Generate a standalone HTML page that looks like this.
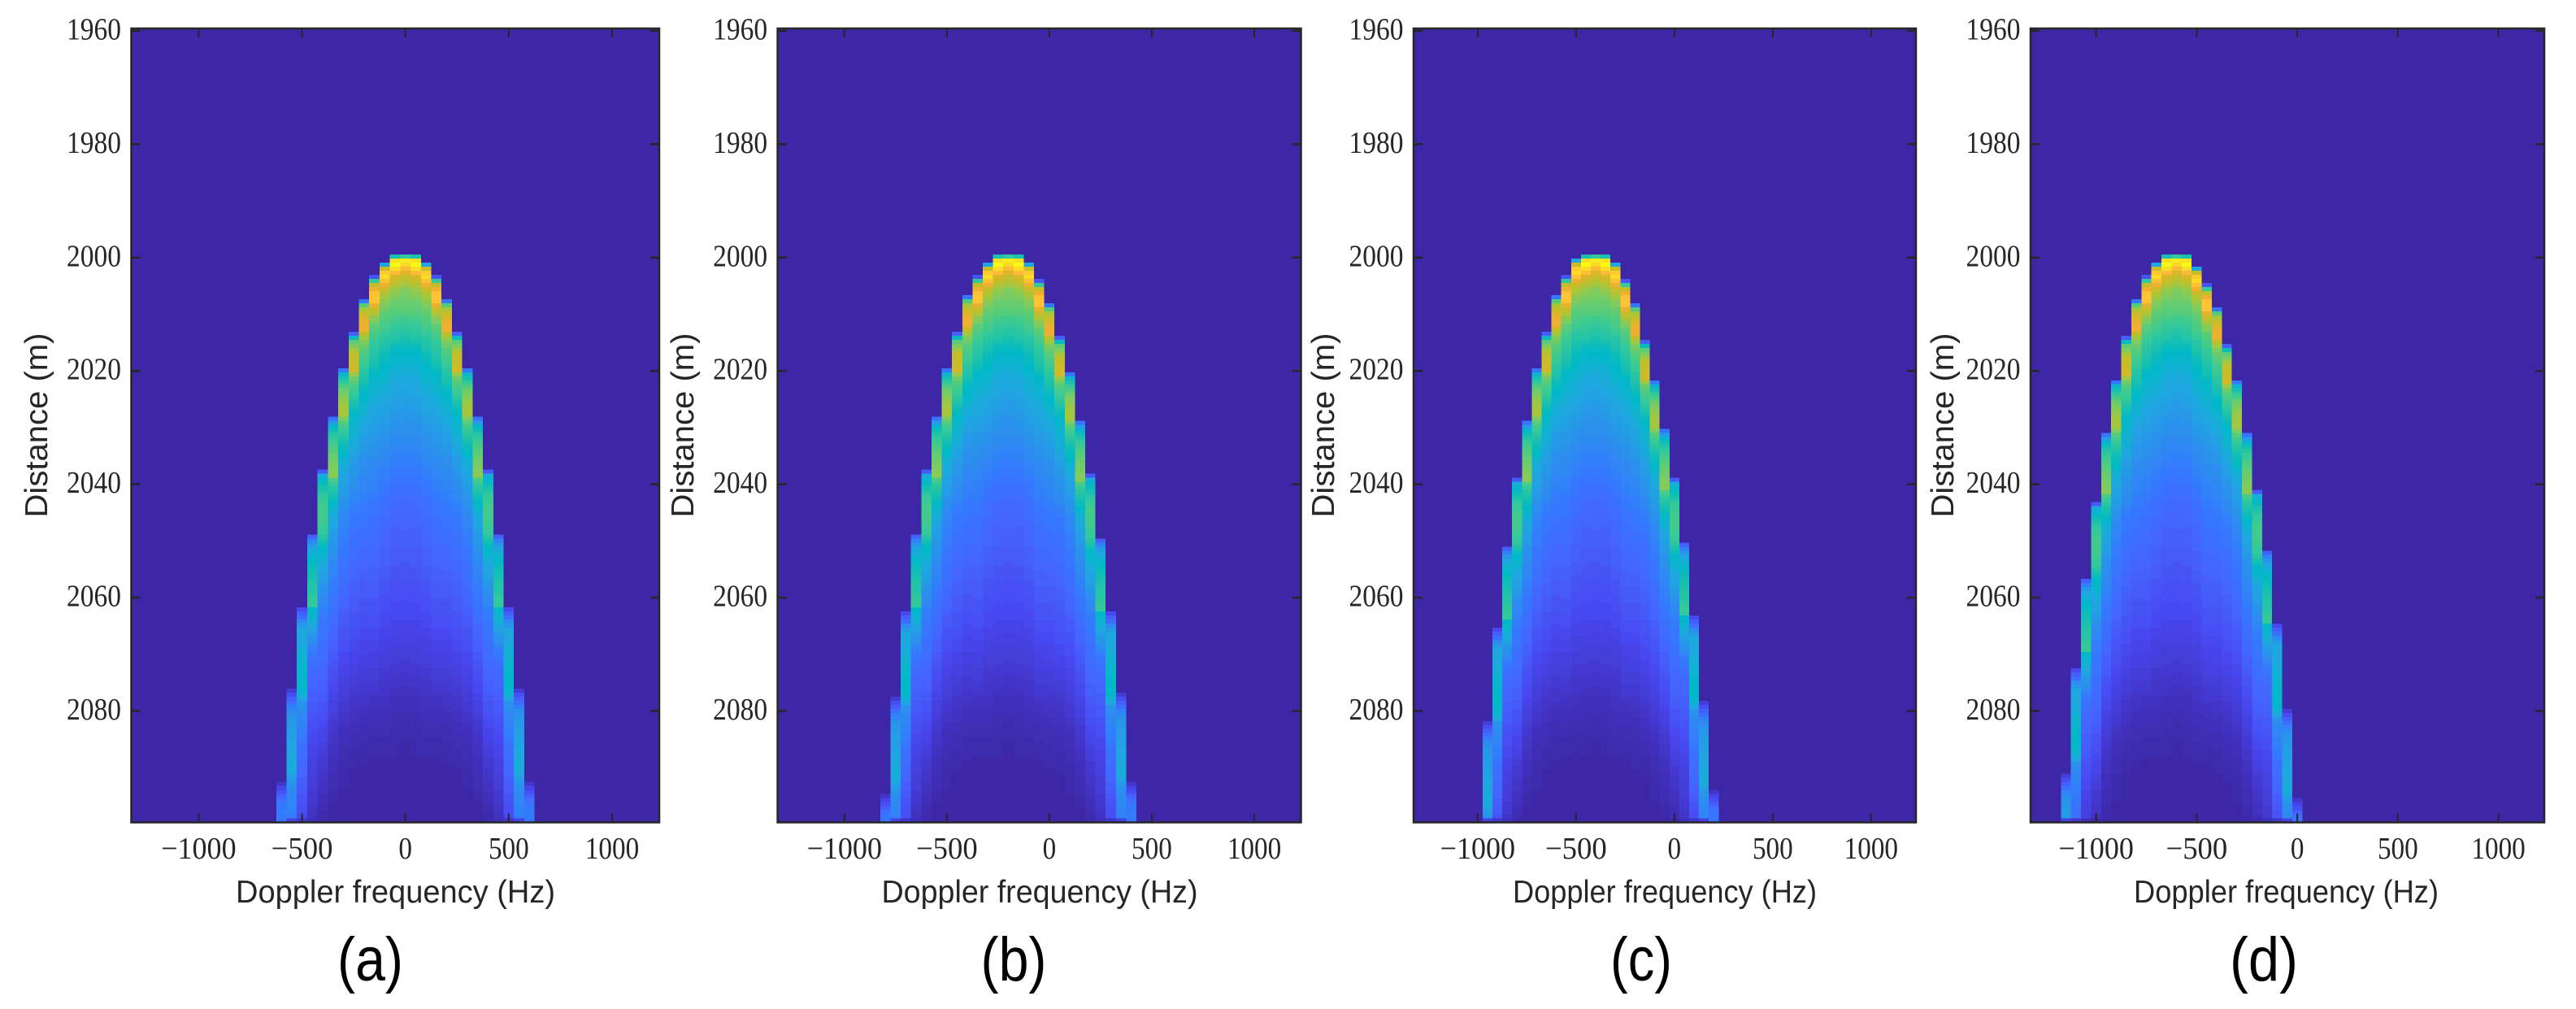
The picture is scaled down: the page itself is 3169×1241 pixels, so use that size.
<!DOCTYPE html>
<html lang="en">
<head>
<meta charset="utf-8">
<title>Range-Doppler heatmaps</title>
<style>
html,body{margin:0;padding:0;background:#fff}
svg{display:block}
.tick-label{font-family:"Liberation Serif",serif;font-size:38px;fill:#262626}
.axis-title{font-family:"Liberation Sans",sans-serif;font-size:39px;fill:#262626}
.caption{font-family:"Liberation Sans",sans-serif;font-size:76px;fill:#000}
</style>
</head>
<body>
<svg id="chart" xmlns="http://www.w3.org/2000/svg" width="3169" height="1241" viewBox="0 0 3169 1241">
  <rect x="0" y="0" width="3169" height="1241" fill="#fff"/>
  <g id="panel-0"></g>
  <g id="panel-1"></g>
  <g id="panel-2"></g>
  <g id="panel-3"></g>

  <text class="axis-title" x="486.5" y="1110" text-anchor="middle" textLength="393" lengthAdjust="spacingAndGlyphs">Doppler frequency (Hz)</text>
  <text class="axis-title" x="1279" y="1110" text-anchor="middle" textLength="389" lengthAdjust="spacingAndGlyphs">Doppler frequency (Hz)</text>
  <text class="axis-title" x="2048" y="1110" text-anchor="middle" textLength="374" lengthAdjust="spacingAndGlyphs">Doppler frequency (Hz)</text>
  <text class="axis-title" x="2812.5" y="1110" text-anchor="middle" textLength="375" lengthAdjust="spacingAndGlyphs">Doppler frequency (Hz)</text>

  <text class="axis-title" transform="translate(58 523) rotate(-90)" text-anchor="middle" textLength="227" lengthAdjust="spacingAndGlyphs">Distance (m)</text>
  <text class="axis-title" transform="translate(853 523) rotate(-90)" text-anchor="middle" textLength="227" lengthAdjust="spacingAndGlyphs">Distance (m)</text>
  <text class="axis-title" transform="translate(1641 523) rotate(-90)" text-anchor="middle" textLength="227" lengthAdjust="spacingAndGlyphs">Distance (m)</text>
  <text class="axis-title" transform="translate(2403 523) rotate(-90)" text-anchor="middle" textLength="227" lengthAdjust="spacingAndGlyphs">Distance (m)</text>

  <text class="caption" x="455.5" y="1206" text-anchor="middle" textLength="81" lengthAdjust="spacingAndGlyphs">(a)</text>
  <text class="caption" x="1247" y="1206" text-anchor="middle" textLength="81" lengthAdjust="spacingAndGlyphs">(b)</text>
  <text class="caption" x="2019" y="1206" text-anchor="middle" textLength="76" lengthAdjust="spacingAndGlyphs">(c)</text>
  <text class="caption" x="2785" y="1206" text-anchor="middle" textLength="84" lengthAdjust="spacingAndGlyphs">(d)</text>
</svg>
<script>
// ---- chart data ----
const xTickValues = [-1000, -500, 0, 500, 1000];
const xTickLabels = ["\u22121000", "\u2212500", "0", "500", "1000"];
const yTickValues = [1960, 1980, 2000, 2020, 2040, 2060, 2080];
const yTickLabels = ["1960", "1980", "2000", "2020", "2040", "2060", "2080"];

// Doppler shift of the echo centre in each panel (Hz)
const dopplerShift = [0, -200, -400, -600];
const binHz = 50;
const firstRowDistance = 1999.47;
const rowStep = 0.7156;
const rowCount = 140;

// Row where each Doppler bin first shows signal, for bins 1..12 on each side (-1 = no signal)
const onsetLeft = [
  [0, 2, 5, 11, 19, 28, 40, 53, 69, 87, 107, 130],
  [0, 2, 5, 10, 19, 28, 40, 53, 69, 88, 109, 133],
  [0, 1, 5, 10, 19, 28, 41, 55, 72, 92, 115, -1],
  [0, 2, 5, 11, 20, 31, 44, 61, 80, 102, 128, -1]
];
const onsetRight = [
  [0, 2, 5, 11, 19, 28, 40, 53, 69, 87, 107, 130],
  [0, 2, 6, 12, 20, 29, 41, 54, 70, 88, 108, 130],
  [0, 2, 6, 12, 21, 31, 43, 55, 71, 89, 110, 132],
  [0, 3, 7, 13, 22, 31, 44, 58, 73, 91, 112, 134]
];

// Intensity (0-100) down each Doppler bin, counted from its onset row; bin 0 is the centre
const bin0 = [50,96,91,84,77,71,68,65,61,60,59,58,57,56,55,52,51,50,48,47,45,44,42,41,39,37,36,34,33,32,31,31,30,30,29,29,28,28,27,27,26,26,25,25,25,24,24,23,23,22,21,21,21,20,20,19,19,18,18,17,16,16,16,15,15,15,15,15,14,14,14,14,13,13,13,13,12,12,12,12,11,11,11,11,11,10,10,10,10,10,9,9,9,8,8,8,8,7,7,7,6,6,6,5,5,5,4,4,4,3,3,3,2,2,2,1,1,1,1,1,0];
const bin1 = [45,93,100,92,85,75,71,68,64,62,60,58,57,56,55,53,52,50,49,48,47,45,43,41,39,38,37,35,34,33,32,31,31,30,30,29,29,28,28,27,27,26,26,25,25,24,24,23,23,22,22,21,21,20,20,19,19,18,18,17,17,16,16,16,15,15,15,14,14,14,14,14,13,13,13,13,13,12,12,12,12,11,11,11,11,11,10,10,10,10,9,9,9,9,8,8,8,7,7,7,7,6,6,6,5,5,5,4,4,3,3,3,3,2,2,2,2,1,1,1,1,1,1,1,0];
const bin2 = [30,72,88,92,86,80,72,68,65,62,60,58,56,55,54,53,52,50,48,47,46,45,43,42,41,40,39,38,36,35,34,33,32,31,30,30,29,29,28,28,27,27,26,26,25,25,24,24,23,23,22,22,21,21,20,20,19,19,18,18,17,17,17,16,16,16,15,15,15,15,14,14,14,14,14,13,13,13,12,12,12,12,11,11,11,11,10,10,10,10,9,9,9,8,8,8,8,7,7,7,6,6,6,5,5,5,5,4,4,4,3,3,3,2,2,2,2,1,1,1,1,1,0];
const bin3 = [12,50,70,80,86,87,86,79,71,68,62,60,56,55,53,52,50,49,48,47,46,45,44,42,40,38,37,36,35,34,33,32,31,30,30,29,29,28,28,27,27,26,26,25,25,24,24,24,23,23,22,22,22,21,21,20,20,19,19,19,18,18,18,17,17,17,16,16,16,15,15,15,14,14,14,14,13,13,13,13,12,12,12,12,11,11,11,10,10,10,9,9,9,8,8,8,8,7,7,7,6,6,6,5,4,4,4,3,3,3,2,2,2,2,1,1,1,1,1,0];
const bin4 = [20,55,66,71,75,79,80,80,70,65,60,58,55,54,52,51,50,48,47,46,45,43,41,40,39,37,35,34,33,32,31,30,29,29,28,28,27,27,26,25,25,25,24,24,23,23,23,22,22,21,21,20,20,20,19,19,18,18,18,17,17,16,16,16,15,15,15,14,14,14,13,13,13,13,12,12,12,12,11,11,11,10,10,10,9,9,9,9,8,8,8,7,7,7,6,6,6,5,5,5,4,4,3,3,3,2,2,2,2,1,1,1,1,1,1,0];
const bin5 = [14,42,56,60,66,70,71,72,73,74,64,58,55,53,51,50,48,46,44,42,40,38,37,36,35,34,33,32,31,30,29,28,28,27,27,26,26,25,25,24,24,23,22,21,21,20,20,20,19,19,18,18,18,17,17,17,16,16,16,15,15,15,14,14,14,13,13,13,13,12,12,12,12,11,11,11,10,10,10,9,9,9,8,8,8,7,7,7,6,6,5,5,5,4,4,4,3,3,3,2,2,2,2,1,1,1,1,1,0];
const bin6 = [20,35,45,50,54,58,60,62,64,65,66,66,60,55,52,50,48,46,44,42,41,40,34,33,32,31,30,29,29,28,28,27,26,26,25,24,24,23,23,22,22,21,21,21,20,20,19,19,19,18,18,18,17,17,16,16,15,15,15,14,14,13,13,13,12,12,12,11,11,11,10,10,10,9,9,9,8,8,8,7,7,7,6,6,6,5,5,4,4,3,3,3,3,2,2,2,2,1,1,1,1,1,1,1,0];
const bin7 = [19,28,38,44,48,50,52,54,55,57,58,59,60,61,62,54,50,48,46,44,42,40,36,34,32,31,30,29,28,28,27,26,26,25,25,24,24,23,23,22,22,21,21,20,20,19,19,18,18,17,17,16,16,15,15,14,14,14,13,13,12,12,11,11,11,10,10,10,9,9,8,8,8,7,7,6,6,6,5,5,5,4,4,4,3,3,3,3,2,2,2,2,1,1,1,0];
const bin8 = [13,32,38,42,45,47,50,50,52,52,52,52,52,51,50,50,48,45,42,40,38,36,33,31,30,29,29,28,27,26,25,24,24,23,22,21,21,20,20,20,19,19,18,18,17,17,17,16,16,15,15,15,14,14,14,13,13,12,12,12,11,11,10,10,9,9,9,8,8,7,7,6,6,6,5,5,5,4,4,4,3,3,2,2,1,1,0];
const bin9 = [14,22,27,30,33,37,40,42,43,44,45,46,47,47,48,49,50,50,40,37,35,33,31,29,27,26,25,23,21,20,19,18,17,16,16,15,15,15,14,14,14,13,13,13,12,12,11,11,11,10,10,10,9,9,9,8,8,8,8,7,7,7,7,6,6,6,5,5,4,4,3];
const bin10 = [10,14,18,24,27,30,31,31,30,32,33,34,35,36,37,38,39,40,40,40,37,34,30,26,25,24,23,23,22,22,21,21,20,19,18,18,17,17,16,16,15,15,14,14,13,13,12,12,11,11,11,10,10,10];
const bin11 = [7,11,14,18,22,24,26,27,27,28,28,28,29,29,30,30,31,31,32,32,32,29,27,26,25,24,24,23,23,22,22,21,21];
const bin12 = [5,9,11,14,17,20,20,21,21,22];
const binProfiles = [bin0, bin1, bin2, bin3, bin4, bin5, bin6, bin7, bin8, bin9, bin10, bin11, bin12];

// Darker final row at the very bottom of the image, per bin
const bottomRow = [0,0,0,0,0,0,0,0,1,3,5,8,20];

// Colour ramp, one stop per 5 intensity units
const colormapStops = ["#3d27a6","#4235c8","#4748f0","#4565ff","#3578ff","#2c8fee","#1fa5e0","#0fb3d0","#00b8c8","#18c0b0","#34c99a","#55cc7c","#7ccc60","#a0c840","#c0bf2a","#d8b828","#edb030","#ffbc38","#fad52a","#f7e81e","#f9fb15"];

// ---- layout ----
const frames = [
  {left:161.5, right:811},
  {left:956.6, right:1600.5},
  {left:1739, right:2357},
  {left:2498, right:3130}
];
const frameTop = 35, frameBottom = 1011.5;
const xMin = -1326, xMax = 1228;
const yMin = 1959.57, yMax = 2099.66;
const inkColor = "#262626";
const SVG_NS = "http://www.w3.org/2000/svg";

function xScale(frame, f) {
  return frame.left + (f - xMin) * (frame.right - frame.left) / (xMax - xMin);
}
function yScale(d) {
  return frameTop + (d - yMin) * (frameBottom - frameTop) / (yMax - yMin);
}
function rowDistance(r) {
  return firstRowDistance + r * rowStep;
}
function colorFor(v) {
  const t = Math.max(0, Math.min(100, v)) / 5;
  const i = Math.min(colormapStops.length - 2, Math.floor(t));
  const f = t - i;
  const a = colormapStops[i], b = colormapStops[i + 1];
  const ch = function (s, p) { return parseInt(s.substr(p, 2), 16); };
  const r = Math.round(ch(a, 1) + (ch(b, 1) - ch(a, 1)) * f);
  const g = Math.round(ch(a, 3) + (ch(b, 3) - ch(a, 3)) * f);
  const bl = Math.round(ch(a, 5) + (ch(b, 5) - ch(a, 5)) * f);
  return "rgb(" + r + "," + g + "," + bl + ")";
}
function line(parent, x1, y1, x2, y2, w) {
  const el = document.createElementNS(SVG_NS, "line");
  el.setAttribute("x1", x1);
  el.setAttribute("y1", y1);
  el.setAttribute("x2", x2);
  el.setAttribute("y2", y2);
  el.setAttribute("stroke", inkColor);
  el.setAttribute("stroke-width", w);
  parent.appendChild(el);
  return el;
}
function drawColumn(group, frame, panelIndex, signedBin, onset) {
  const k = Math.abs(signedBin);
  const profile = binProfiles[k];
  const center = dopplerShift[panelIndex] + signedBin * binHz;
  const x0 = xScale(frame, center - binHz / 2);
  const x1 = xScale(frame, center + binHz / 2);
  for (let r = onset; r < rowCount; r++) {
    const idx = Math.min(r - onset, profile.length - 1);
    const v = r === rowCount - 1 && k >= 8 ? bottomRow[k] : profile[idx];
    if (v <= 0) continue;
    const y0 = yScale(rowDistance(r));
    const y1 = yScale(rowDistance(r + 1));
    const cell = document.createElementNS(SVG_NS, "rect");
    
    
    cell.setAttribute("x", x0.toFixed(2));
    cell.setAttribute("y", y0.toFixed(2));
    cell.setAttribute("width", (x1 - x0).toFixed(2));
    cell.setAttribute("height", (y1 - y0).toFixed(2));
    cell.setAttribute("fill", colorFor(v));
    cell.setAttribute("shape-rendering", "crispEdges");
    group.appendChild(cell);
  }
}
function drawPanel(panelIndex) {
  const frame = frames[panelIndex];
  const root = document.getElementById("panel-" + panelIndex);

  const bg = document.createElementNS(SVG_NS, "rect");
  
  
  bg.setAttribute("x", frame.left);
  bg.setAttribute("y", frameTop);
  bg.setAttribute("width", frame.right - frame.left);
  bg.setAttribute("height", frameBottom - frameTop);
  bg.setAttribute("fill", colormapStops[0]);
  root.appendChild(bg);

  const cells = document.createElementNS(SVG_NS, "g");
  
  
  root.appendChild(cells);

  drawColumn(cells, frame, panelIndex, 0, 0);
  for (let k = 1; k <= 12; k++) {
    const l = onsetLeft[panelIndex][k - 1];
    const r = onsetRight[panelIndex][k - 1];
    if (l >= 0) drawColumn(cells, frame, panelIndex, -k, l);
    if (r >= 0) drawColumn(cells, frame, panelIndex, k, r);
  }

  const axes = document.createElementNS(SVG_NS, "g");
  
  
  root.appendChild(axes);

  xTickValues.forEach(function (value, i) {
    const x = xScale(frame, value);
    const t1 = line(axes, x, frameBottom, x, frameBottom - 11, 2);
    
    
    const t2 = line(axes, x, frameTop, x, frameTop + 11, 2);
    
    
    const label = xTickLabels[i];
    const digits = label.replace("\u2212", "").length;
    const width = digits * 16.6 + (label.length > digits ? 26 : 0);
    const txt = document.createElementNS(SVG_NS, "text");
    
    
    txt.setAttribute("class", "tick-label");
    txt.setAttribute("x", x);
    txt.setAttribute("y", 1056);
    txt.setAttribute("text-anchor", "middle");
    txt.setAttribute("textLength", width);
    txt.setAttribute("lengthAdjust", "spacingAndGlyphs");
    txt.textContent = label;
    axes.appendChild(txt);
  });

  yTickValues.forEach(function (value, i) {
    const y = yScale(value);
    const t1 = line(axes, frame.left, y, frame.left + 11, y, 2.5);
    
    
    const t2 = line(axes, frame.right, y, frame.right - 11, y, 2.5);
    
    
    const txt = document.createElementNS(SVG_NS, "text");
    
    
    txt.setAttribute("class", "tick-label");
    txt.setAttribute("x", frame.left - 12.5);
    txt.setAttribute("y", y + 10.5);
    txt.setAttribute("text-anchor", "end");
    txt.setAttribute("textLength", 67);
    txt.setAttribute("lengthAdjust", "spacingAndGlyphs");
    txt.textContent = yTickLabels[i];
    axes.appendChild(txt);
  });

  const border = document.createElementNS(SVG_NS, "rect");
  
  
  border.setAttribute("x", frame.left);
  border.setAttribute("y", frameTop);
  border.setAttribute("width", frame.right - frame.left);
  border.setAttribute("height", frameBottom - frameTop);
  border.setAttribute("fill", "none");
  border.setAttribute("stroke", inkColor);
  border.setAttribute("stroke-width", 2.5);
  axes.appendChild(border);
}
for (let p = 0; p < frames.length; p++) drawPanel(p);
</script>
</body>
</html>
